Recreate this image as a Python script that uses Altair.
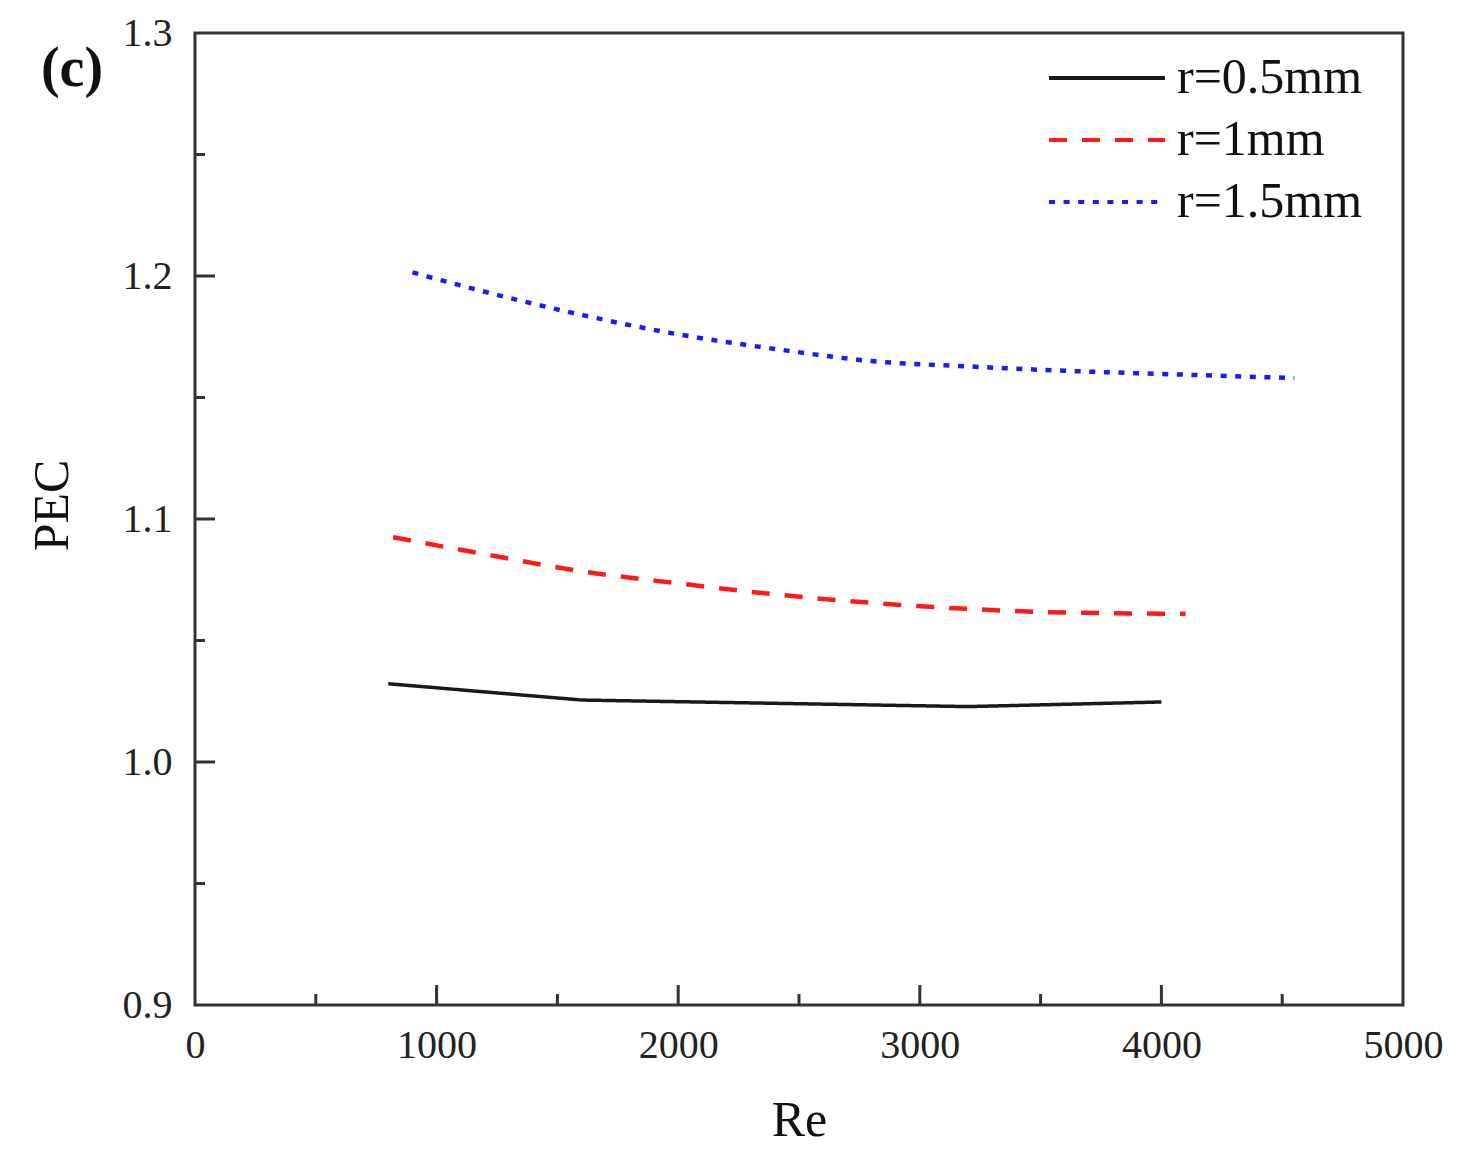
import altair as alt
import pandas as pd

series = ["r=0.5mm", "r=1mm", "r=1.5mm"]
colors = ["#1a1a1a", "#ff1a1a", "#1a1aff"]
dashes = [[1, 0], [18, 15], [6, 8.6]]

re_05 = [800, 1600, 3200, 4000]
pec_05 = [1.0322, 1.0255, 1.0228, 1.0247]

re_10 = [820, 1200, 1600, 2000, 2400, 2800, 3200, 3600, 4100]
pec_10 = [1.0925, 1.0855, 1.0785, 1.0735, 1.0690, 1.0655, 1.0630, 1.0615, 1.0610]

re_15 = [900, 1200, 1600, 2000, 2400, 2800, 3200, 3600, 4000, 4550]
pec_15 = [1.2015, 1.1935, 1.1840, 1.1760, 1.1700, 1.1650, 1.1628, 1.1610, 1.1597, 1.1580]

x_labels = [0, 1000, 2000, 3000, 4000, 5000]
y_labels = [0.9, 1.0, 1.1, 1.2, 1.3]
x_major = [1000, 2000, 3000, 4000]
x_minor = [500, 1500, 2500, 3500, 4500]
y_major = [1.0, 1.1, 1.2]
y_minor = [0.95, 1.05, 1.15, 1.25]

rows = []
for name, xs, ys in [(series[0], re_05, pec_05), (series[1], re_10, pec_10), (series[2], re_15, pec_15)]:
    for i, (a, b) in enumerate(zip(xs, ys)):
        rows.append({"series": name, "Re": a, "PEC": b, "order": i})
df = pd.DataFrame(rows)

W, H = 1208, 972
FONT = "Liberation Serif"

xscale = alt.Scale(domain=[0, 5000], nice=False)
yscale = alt.Scale(domain=[0.9, 1.3], nice=False, zero=False)

x_axis = alt.Axis(
    values=x_labels, format="d", title="Re", grid=False, ticks=False, tickSize=0, domain=False,
    labelFont=FONT, labelFontSize=40, labelColor="#222", labelPadding=40, labelBaseline="middle",
    labelFlush=False,
    titleFont=FONT, titleFontSize=50, titleFontWeight="normal", titleColor="#111",
    titleY=115, titleBaseline="middle")
y_axis = alt.Axis(
    values=y_labels, format=".1f", title="PEC", grid=False, ticks=False, tickSize=0, domain=False,
    labelFont=FONT, labelFontSize=40, labelColor="#222", labelPadding=23, labelBaseline="middle",
    labelFlush=False,
    titleFont=FONT, titleFontSize=50, titleFontWeight="normal", titleColor="#111",
    titleX=-143, titleY=472, titleAngle=270, titleAlign="center", titleBaseline="middle")

legend = alt.Legend(
    title=None, orient="none", legendX=852, legendY=25, symbolType="stroke", symbolSize=13456,
    symbolStrokeWidth=4, labelFont=FONT, labelFontSize=50, labelColor="#111", clipHeight=40,
    rowPadding=12, labelOffset=10, padding=0, labelLimit=400)

color_enc = alt.Color("series:N", scale=alt.Scale(domain=series, range=colors), legend=legend)
dash_enc = alt.StrokeDash("series:N", scale=alt.Scale(domain=series, range=dashes), legend=legend)

base = alt.Chart(df).encode(
    x=alt.X("Re:Q", scale=xscale, axis=x_axis),
    y=alt.Y("PEC:Q", scale=yscale, axis=y_axis),
    color=color_enc, strokeDash=dash_enc, order="order:Q")
line_black = base.transform_filter(alt.datum.series == series[0]).mark_line(strokeWidth=3.5, interpolate="linear")
line_curves = base.transform_filter(alt.datum.series != series[0]).mark_line(strokeWidth=4.5, interpolate="monotone")

tick_color = "#333"
xt_major = alt.Chart(pd.DataFrame({"Re": x_major})).mark_rule(color=tick_color, strokeWidth=3).encode(
    x=alt.X("Re:Q", scale=xscale, axis=x_axis), y=alt.value(H), y2=alt.value(H - 20))
xt_minor = alt.Chart(pd.DataFrame({"Re": x_minor})).mark_rule(color=tick_color, strokeWidth=3).encode(
    x=alt.X("Re:Q", scale=xscale, axis=x_axis), y=alt.value(H), y2=alt.value(H - 11))
yt_major = alt.Chart(pd.DataFrame({"PEC": y_major})).mark_rule(color=tick_color, strokeWidth=3).encode(
    y=alt.Y("PEC:Q", scale=yscale, axis=y_axis), x=alt.value(0), x2=alt.value(20))
yt_minor = alt.Chart(pd.DataFrame({"PEC": y_minor})).mark_rule(color=tick_color, strokeWidth=3).encode(
    y=alt.Y("PEC:Q", scale=yscale, axis=y_axis), x=alt.value(0), x2=alt.value(10))

label_c = alt.Chart(pd.DataFrame({"t": ["(c)"]})).mark_text(
    font=FONT, fontSize=56, fontWeight="bold", color="#111", align="center", baseline="middle").encode(
    text="t:N", x=alt.value(-123), y=alt.value(36))

chart = alt.layer(line_black, line_curves, xt_major, xt_minor, yt_major, yt_minor, label_c).properties(
    width=W, height=H,
    autosize=alt.AutoSizeParams(type="none"),
    padding={"left": 187, "top": 25, "right": 49, "bottom": 142},
    background="white",
).configure_view(stroke="#333", strokeWidth=3)

chart.save("out.html", embed_options={"renderer": "svg", "actions": False})
